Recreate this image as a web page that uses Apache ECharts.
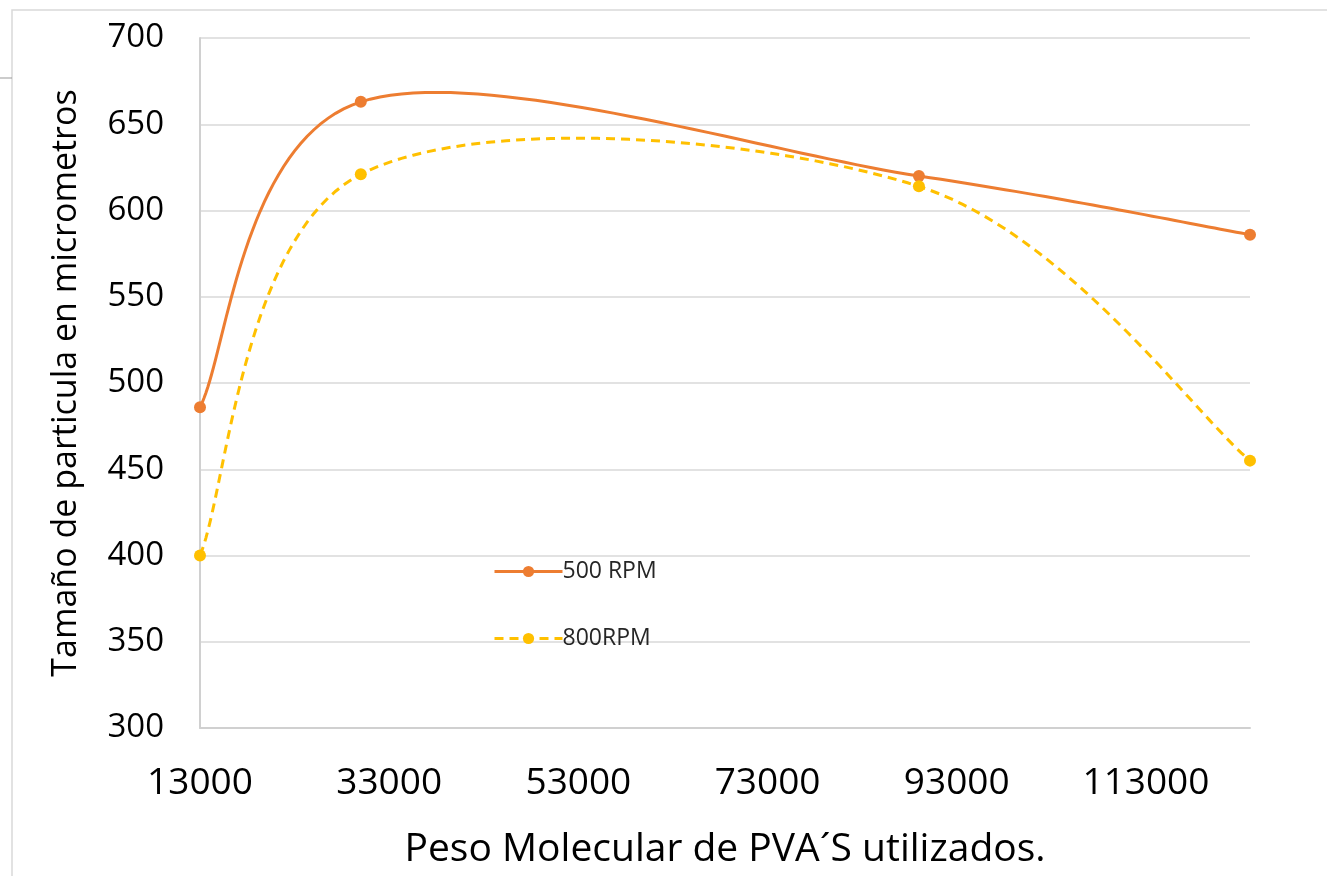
<!DOCTYPE html>
<html>
<head>
<meta charset="utf-8">
<script src="https://cdn.jsdelivr.net/npm/echarts@6/dist/echarts.min.js"></script>
<style>
html, body { margin: 0; padding: 0; background: #fff; }
#chart { width: 1327px; height: 876px; }
</style>
</head>
<body>
<div id="chart"></div>
<script>
// pesos moleculares de PVA
var pesos = [13000, 30000, 89000, 124000]
// tamaño de particula (micrometros)
var rpm500 = [486, 663, 620, 586]
var rpm800 = [400, 621, 614, 455]
var nombres = ['500 RPM', '800RPM']
var colores = ['#ED7D31', '#FFC000']
var guiones = ['solid', [9, 6]]

function pares(xs, ys) {
    return xs.map(function (x, i) { return [x, ys[i]] })
}

// curva suavizada tipo Excel (Catmull-Rom -> Bezier), en pixeles
function curva(ys, idx) {
    return function (params, api) {
        var p = pesos.map(function (x, i) { return api.coord([x, ys[i]]) })
        var pts = []
        for (var i = 0; i < p.length - 1; i++) {
            var p0 = p[i - 1] || p[i]
            var p1 = p[i]
            var p2 = p[i + 1]
            var p3 = p[i + 2] || p[i + 1]
            var c1 = [p1[0] + (p2[0] - p0[0]) / 6, p1[1] + (p2[1] - p0[1]) / 6]
            var c2 = [p2[0] - (p3[0] - p1[0]) / 6, p2[1] - (p3[1] - p1[1]) / 6]
            for (var k = 0; k <= 40; k++) {
                if (i > 0 && k == 0) continue
                var t = k / 40, u = 1 - t
                pts.push([
                    u*u*u*p1[0] + 3*u*u*t*c1[0] + 3*u*t*t*c2[0] + t*t*t*p2[0],
                    u*u*u*p1[1] + 3*u*u*t*c1[1] + 3*u*t*t*c2[1] + t*t*t*p2[1]
                ])
            }
        }
        return {
            type: 'polyline',
            shape: { points: pts },
            style: { fill: null, stroke: colores[idx], lineWidth: 3, lineDash: idx == 1 ? [9, 6] : null }
        }
    }
}

var chart = echarts.init(document.getElementById('chart'))
var option = {
    backgroundColor: '#fff',
    animation: false,
    color: colores,
    grid: { left: 200, right: 77, top: 38, bottom: 148 },
    graphic: [
        { type: 'rect', shape: { x: 12, y: 10, width: 1330, height: 880 }, style: { fill: 'none', stroke: '#d9d9d9', lineWidth: 1.5 } },
        { type: 'line', shape: { x1: 0, y1: 78, x2: 12, y2: 78 }, style: { stroke: '#999', lineWidth: 1 } }
    ],
    legend: {
        orient: 'vertical',
        left: 488,
        top: 555,
        itemGap: 44,
        itemWidth: 68,
        itemHeight: 14,
        data: nombres.map(function (n, i) {
            return { name: n, lineStyle: { opacity: 1, width: 3, color: colores[i], type: guiones[i] } }
        }),
        textStyle: { fontFamily: 'Open Sans', fontSize: 23, color: '#262626', padding: [0, 0, 0, -5] }
    },
    xAxis: {
        type: 'value',
        min: 13000,
        max: 124000,
        interval: 20000,
        name: 'Peso Molecular de PVA´S utilizados.',
        nameLocation: 'middle',
        nameGap: 102,
        nameTextStyle: { fontFamily: 'Open Sans', fontSize: 39, color: '#000' },
        axisLine: { show: true, lineStyle: { color: '#d0d0d0', width: 2 } },
        axisTick: { show: false },
        splitLine: { show: false },
        axisLabel: {
            showMaxLabel: false, margin: 37, fontFamily: 'Open Sans', fontSize: 37, color: '#000',
            formatter: function (v) { return String(v) }
        }
    },
    yAxis: {
        type: 'value',
        min: 300,
        max: 700,
        interval: 50,
        name: 'Tamaño de particula en micrometros',
        nameLocation: 'middle',
        nameGap: 117,
        nameTextStyle: { fontFamily: 'Open Sans', fontSize: 34, color: '#000' },
        axisLine: { show: true, lineStyle: { color: '#d0d0d0', width: 2 } },
        axisTick: { show: false },
        splitLine: { show: true, lineStyle: { color: '#d9d9d9', width: 1.5 } },
        axisLabel: { margin: 36, fontFamily: 'Open Sans', fontSize: 33, color: '#000' }
    },
    series: [
        {
            name: nombres[0],
            type: 'line',
            symbol: 'circle',
            symbolSize: 12,
            data: pares(pesos, rpm500),
            lineStyle: { opacity: 0 },
            z: 3
        },
        {
            name: nombres[1],
            type: 'line',
            symbol: 'circle',
            symbolSize: 12,
            data: pares(pesos, rpm800),
            lineStyle: { opacity: 0 },
            z: 3
        },
        { type: 'custom', data: [[0]], renderItem: curva(rpm500, 0), z: 2, silent: true },
        { type: 'custom', data: [[0]], renderItem: curva(rpm800, 1), z: 2, silent: true }
    ]
}
chart.setOption(option)
</script>
</body>
</html>
